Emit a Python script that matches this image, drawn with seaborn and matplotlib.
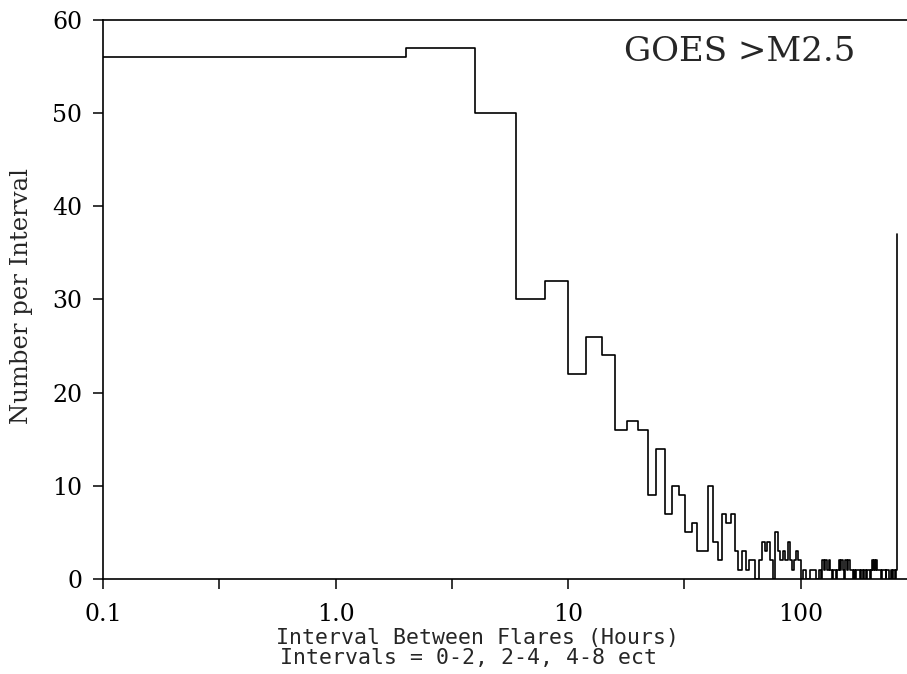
import numpy as np
import pandas as pd
import matplotlib
matplotlib.use('Agg')
import matplotlib.pyplot as plt
import matplotlib.ticker as mticker
import seaborn as sns

# Flare waiting time histogram, 2 hour bins (0-2, 2-4, ...), GOES >M2.5
bin_width = 2
counts = [56, 57, 50, 30, 32, 22, 26, 24, 16, 17, 16, 9, 14, 7, 10, 9, 5, 6, 3, 3,
          10, 4, 2, 7, 6, 7,
          3, 1, 3, 1, 2, 2, 0, 2, 4, 3, 4, 2, 0, 5, 3, 2, 3, 2, 4, 2, 1, 2, 3, 2,
          0, 1, 1, 0, 0, 1, 1, 1, 0, 0,
          1, 0, 2, 1, 2, 1, 2, 1, 0, 1, 1, 0, 1, 2, 1, 2, 1, 0,
          2, 1, 2, 2, 1, 1, 0, 1, 0, 1, 1, 1, 0, 1,
          1, 0, 1, 1, 0, 1, 1, 0, 1, 2, 1, 2, 2, 1, 2, 1,
          1, 1, 1, 0, 1, 1, 1, 1, 0, 1, 1, 1, 0, 0, 1, 1, 0, 1, 1, 1, 0, 1]
overflow = 37          # everything beyond the last bin
x_start = 0.1          # first bin drawn from here (log axis)

x_ticks = [0.1, 1.0, 10, 100]
x_ticklabels = ['0.1', '1.0', '10', '100']
y_ticks = [0, 10, 20, 30, 40, 50, 60]

starts = np.arange(len(counts)) * bin_width
starts = starts.astype(float)
starts[0] = x_start
df = pd.DataFrame({'hours': list(starts) + [len(counts) * bin_width],
                   'number': counts + [overflow]})

sns.set_style('ticks')
plt.rcParams['font.family'] = ['DejaVu Serif']

fig = plt.figure(figsize=(9.07, 6.74), dpi=100)
ax = fig.add_axes([103 / 907, 95 / 674, 804 / 907, 559 / 674])

sns.lineplot(data=df, x='hours', y='number', color='black', linewidth=1.2,
             drawstyle='steps-post', ax=ax, estimator=None)

ax.set_xscale('log')
ax.set_xlim(0.1, 287)
ax.set_ylim(0, 60)
ax.xaxis.set_major_locator(mticker.FixedLocator(x_ticks))
ax.xaxis.set_major_formatter(mticker.FixedFormatter(x_ticklabels))
ax.xaxis.set_minor_locator(mticker.FixedLocator([10 ** -0.5, 10 ** 0.5, 10 ** 1.5]))
ax.xaxis.set_minor_formatter(mticker.NullFormatter())
ax.set_yticks(y_ticks)

for sp in ['left', 'bottom', 'top']:
    ax.spines[sp].set_linewidth(1.2)
    ax.spines[sp].set_color('black')
ax.spines['right'].set_visible(False)
ax.tick_params(axis='both', which='both', direction='out', length=7, width=1.1,
               colors='black', labelsize=17)
ax.tick_params(axis='x', pad=10)
ax.tick_params(axis='y', pad=8)
ax.set_xlabel('')
ax.set_ylabel('')

fig.text(22 / 907, 1 - 296 / 674, 'Number per Interval', rotation=90,
         ha='center', va='center', fontsize=17.5)
fig.text(478 / 907, 1 - 638 / 674, 'Interval Between Flares (Hours)',
         ha='center', va='center', fontsize=15.5, family='DejaVu Sans Mono')
fig.text(468 / 907, 1 - 658 / 674, 'Intervals = 0-2, 2-4, 4-8 ect',
         ha='center', va='center', fontsize=15.5, family='DejaVu Sans Mono')
fig.text(740 / 907, 1 - 52 / 674, 'GOES >M2.5', ha='center', va='center',
         fontsize=24.5)

fig.savefig('out.png', dpi=100, facecolor='white')
